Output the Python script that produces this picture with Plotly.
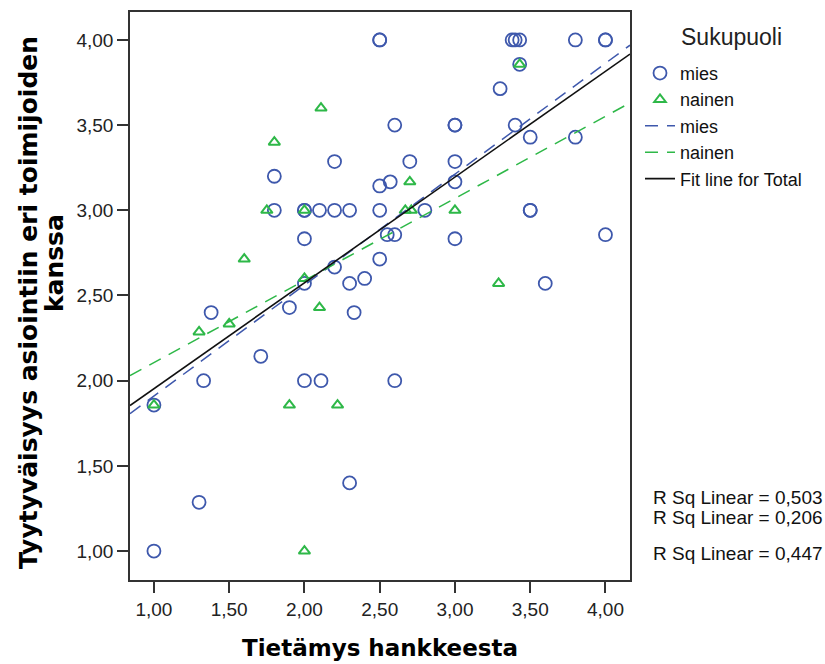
import plotly.graph_objects as go

# ---------------- data ----------------
mies_x = [1.00, 1.00, 1.30, 1.33, 1.38, 1.71, 1.80, 1.80, 1.90, 2.00, 2.00, 2.00, 2.00, 2.00,
          2.10, 2.11, 2.20, 2.20, 2.20, 2.30, 2.30, 2.33, 2.40, 2.30, 2.50, 2.50, 2.50, 2.50,
          2.50, 2.55, 2.57, 2.60, 2.60, 2.60, 2.70, 2.80, 3.00, 3.00, 3.00, 3.00, 3.00,
          3.30, 3.38, 3.40, 3.43, 3.40, 3.43, 3.50, 3.50, 3.50, 3.60, 3.80, 3.80, 4.00,
          4.00, 4.00]
mies_y = [1.000, 1.857, 1.286, 2.000, 2.400, 2.143, 3.200, 3.000, 2.429, 3.000, 3.000, 2.833,
          2.571, 2.000, 3.000, 2.000, 3.000, 3.286, 2.667, 3.000, 2.571, 2.400, 2.600, 1.400,
          4.000, 4.000, 3.143, 3.000, 2.714, 2.857, 3.167, 3.500, 2.857, 2.000, 3.286, 3.000,
          3.500, 3.500, 3.286, 3.167, 2.833, 3.714, 4.000, 4.000, 4.000, 3.500, 3.857, 3.429,
          3.000, 3.000, 2.571, 4.000, 3.429, 4.000, 4.000, 2.857]

nainen_x = [1.00, 1.30, 1.50, 1.60, 1.75, 1.80, 1.90, 2.00, 2.00, 2.00, 2.10, 2.11, 2.22,
            2.67, 2.71, 2.70, 3.00, 3.29, 3.43]
nainen_y = [1.857, 2.286, 2.333, 2.714, 3.000, 3.400, 1.857, 3.000, 2.600, 1.000, 2.429,
            3.600, 1.857, 3.000, 3.000, 3.167, 3.000, 2.571, 3.857]

# fit lines: mies, nainen, total (intercept, slope)
fit_names = ["mies", "nainen", "Fit line for Total"]
fit_intercept = [1.259, 1.624, 1.332]
fit_slope = [0.651, 0.482, 0.621]
r_sq_labels = ["R Sq Linear = 0,503", "R Sq Linear = 0,206", "R Sq Linear = 0,447"]

x_ticks = [1.0, 1.5, 2.0, 2.5, 3.0, 3.5, 4.0]
y_ticks = [1.0, 1.5, 2.0, 2.5, 3.0, 3.5, 4.0]

x_title = "Tietämys hankkeesta"
y_title_lines = ["Tyytyväisyys asiointiin eri toimijoiden", "kanssa"]
legend_title = "Sukupuoli"

# ---------------- styling ----------------
BLUE = "#3E58AC"
GREEN = "#2EB848"
FONT = "Liberation Sans, Arial, sans-serif"
BOLD_FONT = "DejaVu Sans, Verdana, sans-serif"

x_range = [0.841, 4.163]
y_range = [0.830, 4.164]

fig = go.Figure()

fig.add_trace(go.Scatter(
    x=mies_x, y=mies_y, mode="markers", name="mies",
    marker=dict(symbol="circle-open", size=13, color=BLUE, line=dict(width=1.8, color=BLUE)),
))
fig.add_trace(go.Scatter(
    x=nainen_x, y=nainen_y, mode="markers", name="nainen",
    marker=dict(symbol="triangle-up-open", size=10, color=GREEN, line=dict(width=2, color=GREEN)),
))

line_styles = [
    dict(color=BLUE, width=1.5, dash="13px,9px"),
    dict(color=GREEN, width=1.5, dash="13px,9px"),
    dict(color="#111111", width=1.6),
]
for name, b0, b1, st in zip(fit_names, fit_intercept, fit_slope, line_styles):
    xs = [x_range[0], x_range[1]]
    ys = [b0 + b1 * xv for xv in xs]
    fig.add_trace(go.Scatter(x=xs, y=ys, mode="lines", name=name, line=st))

axis_common = dict(
    showgrid=False, zeroline=False, showline=True, mirror=True,
    linecolor="#333333", linewidth=1.5,
    ticks="outside", ticklen=11, tickwidth=1.5, tickcolor="#333333",
    tickfont=dict(family=FONT, size=19, color="#222222"),
    tickformat=".2f",
)
fig.update_xaxes(range=x_range, tickvals=x_ticks, **axis_common)
fig.update_yaxes(range=y_range, tickvals=y_ticks, **axis_common)

title_font = dict(family=BOLD_FONT, size=23, color="#000000", weight="bold")
annotations = [
    dict(text=x_title, x=0.5, y=-0.119, xref="paper", yref="paper",
         xanchor="center", yanchor="middle", showarrow=False, font=title_font),
    dict(text=y_title_lines[0], x=(29 - 130) / 500, y=(580 - 302) / 570, xref="paper", yref="paper",
         xanchor="center", yanchor="middle", showarrow=False, textangle=-90,
         font=dict(family=BOLD_FONT, size=25, color="#000000", weight="bold")),
    dict(text=y_title_lines[1], x=(54 - 130) / 500, y=(580 - 262) / 570, xref="paper", yref="paper",
         xanchor="center", yanchor="middle", showarrow=False, textangle=-90,
         font=dict(family=BOLD_FONT, size=25, color="#000000", weight="bold")),
    dict(text=legend_title, x=(731 - 130) / 500, y=(580 - 35) / 570, xref="paper", yref="paper",
         xanchor="center", yanchor="middle", showarrow=False,
         font=dict(family=FONT, size=23, color="#222222")),
]
r_y = [0.1456, 0.1105, 0.0474]
for lbl, yy in zip(r_sq_labels, r_y):
    annotations.append(dict(text=lbl, x=1.39, y=yy, xref="paper", yref="paper",
                            xanchor="right", yanchor="middle", showarrow=False,
                            font=dict(family=FONT, size=19, color="#111111")))

fig.update_layout(
    width=825, height=664,
    margin=dict(l=130, r=195, t=10, b=84),
    paper_bgcolor="white", plot_bgcolor="white",
    separators=", ",
    showlegend=True,
    legend=dict(
        x=1.02, y=(580 - 53) / 570, xanchor="left", yanchor="top",
        font=dict(family=FONT, size=18, color="#111111"),
        bgcolor="rgba(0,0,0,0)", borderwidth=0,
        traceorder="normal",
    ),
    annotations=annotations,
)

fig.write_html("out.html", config={"displayModeBar": False},
               post_script="document.body.style.margin='0';")
